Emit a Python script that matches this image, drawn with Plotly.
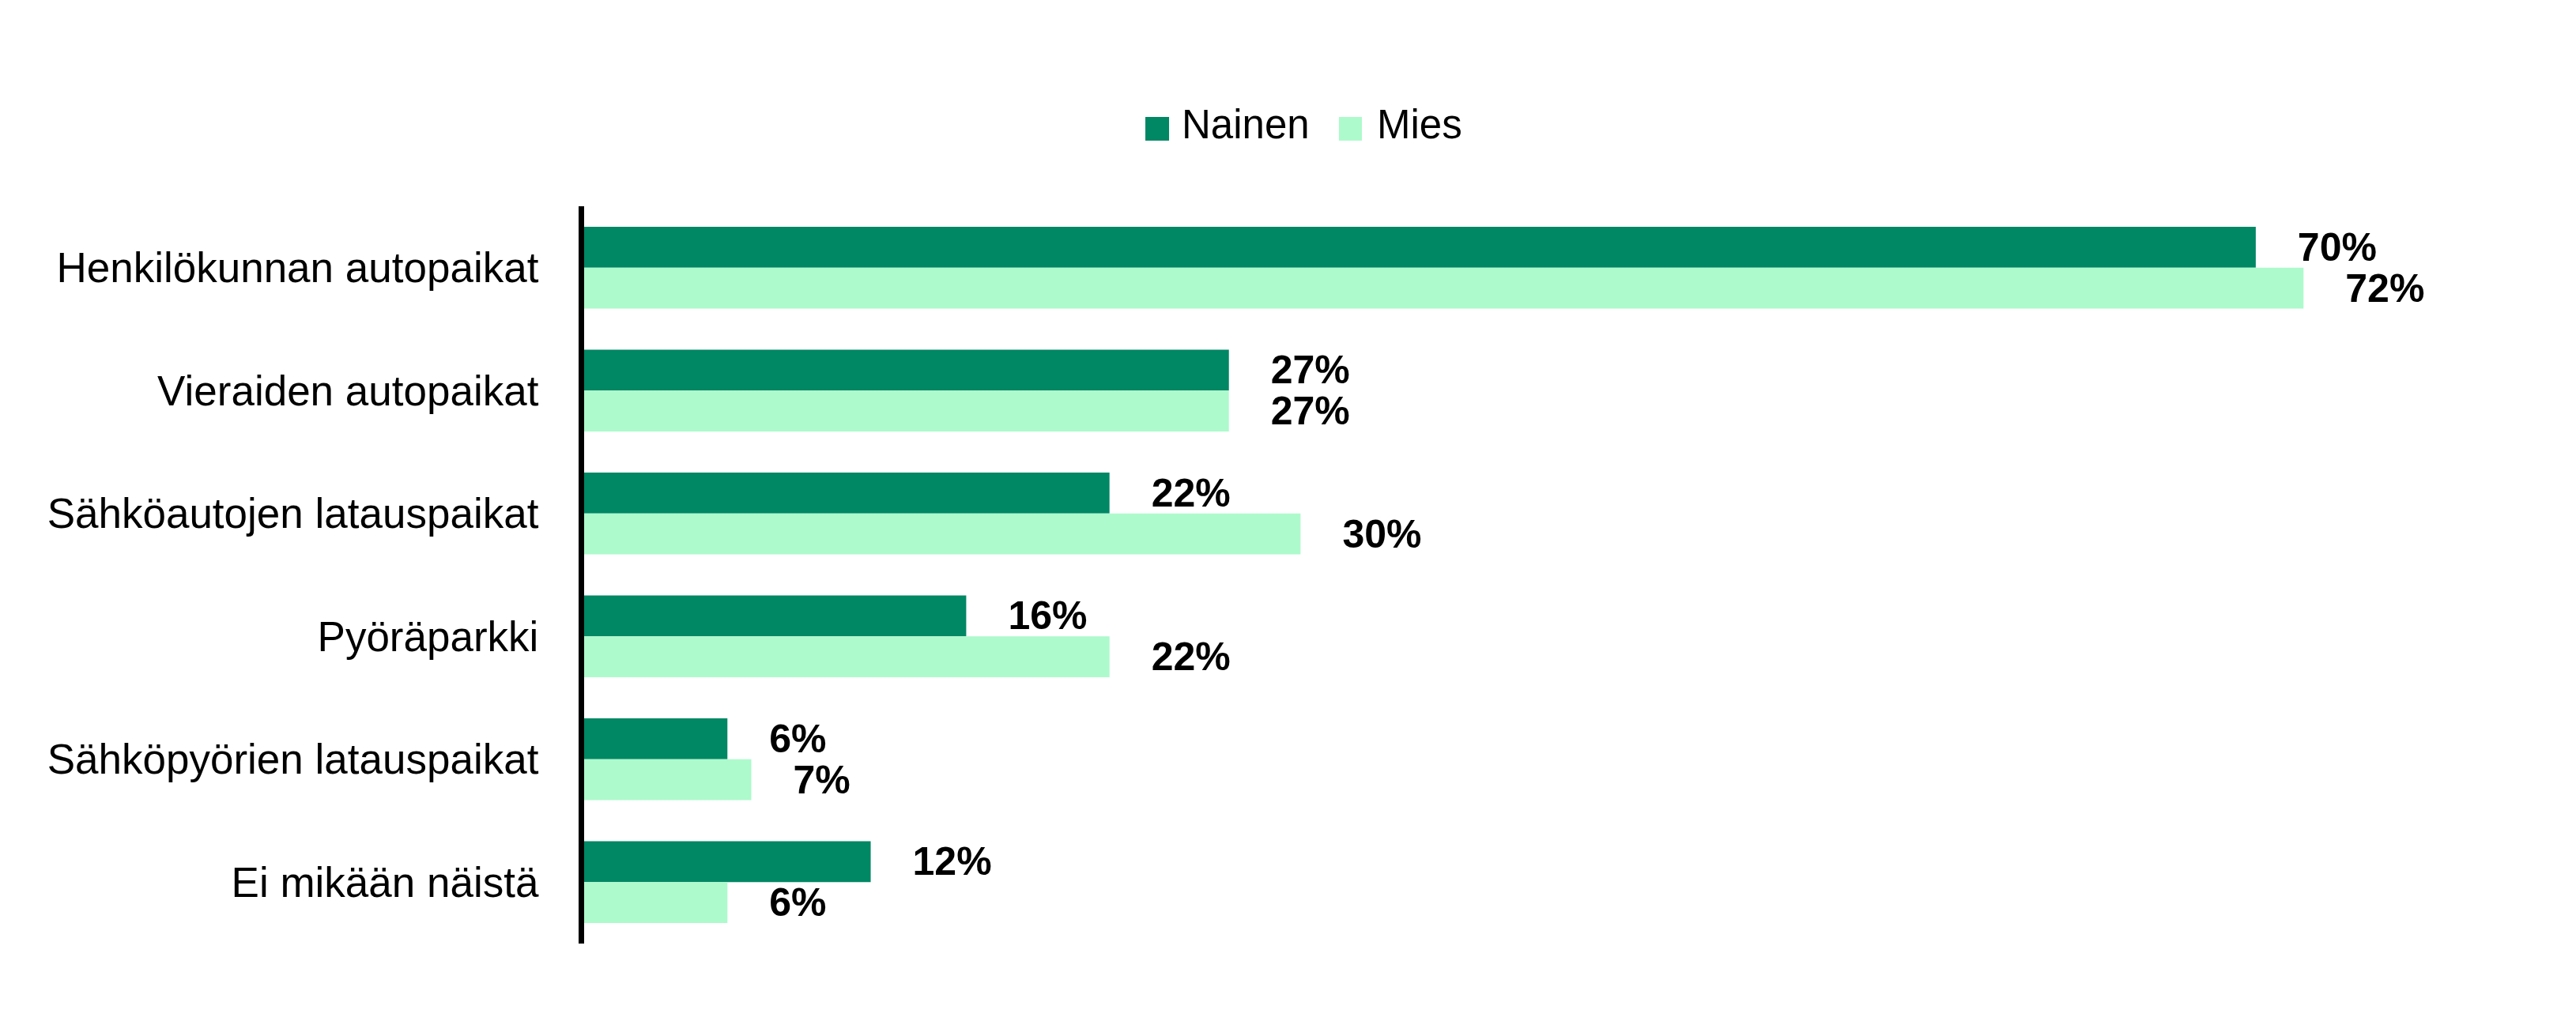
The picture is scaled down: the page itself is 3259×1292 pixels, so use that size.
import plotly.graph_objects as go

categories = [
    "Henkilökunnan autopaikat",
    "Vieraiden autopaikat",
    "Sähköautojen latauspaikat",
    "Pyöräparkki",
    "Sähköpyörien latauspaikat",
    "Ei mikään näistä",
]
series_names = ["Nainen", "Mies"]
nainen = [70, 27, 22, 16, 6, 12]
mies = [72, 27, 30, 22, 7, 6]

DARK = "#008764"
LIGHT = "#ADFACC"
FONT = "Liberation Sans, Arial, sans-serif"
PAD = "\u2002\u2002"

fig = go.Figure()
for name, vals, col in [(series_names[0], nainen, DARK), (series_names[1], mies, LIGHT)]:
    fig.add_trace(go.Bar(
        name=name, y=categories, x=vals, orientation="h",
        marker=dict(color=col, line=dict(width=0)),
        text=[f"{PAD}{v}%" for v in vals],
        textposition="outside", constraintext="none", cliponaxis=False,
        textfont=dict(family=FONT, size=50, color="black", weight="bold"),
        hoverinfo="skip", showlegend=False,
    ))

# legend drawn as swatches + labels (paper coordinates)
legend_items = [
    (series_names[0], DARK, 0.2934, 0.3058, 0.3116),
    (series_names[1], LIGHT, 0.3946, 0.4066, 0.4136),
]
shapes, annotations = [], []
for name, col, x0, x1, tx in legend_items:
    shapes.append(dict(type="rect", xref="paper", yref="paper", x0=x0, x1=x1,
                       y0=1.0890, y1=1.1211, fillcolor=col, line=dict(width=0)))
    annotations.append(dict(text=name, xref="paper", yref="paper", x=tx, y=1.1104,
                            xanchor="left", yanchor="middle", showarrow=False,
                            font=dict(family=FONT, size=51, color="black")))

fig.update_layout(
    width=3259, height=1292,
    margin=dict(l=739, r=100, t=261, b=98),
    paper_bgcolor="white", plot_bgcolor="white",
    barmode="group", bargap=1/3, bargroupgap=0,
    font=dict(family=FONT, size=53, color="black"),
    showlegend=False,
    shapes=shapes, annotations=annotations,
    xaxis=dict(range=[0, 80.1], visible=False, showgrid=False, zeroline=False),
    yaxis=dict(autorange="reversed", showline=True, linecolor="black", linewidth=7,
               showgrid=False, zeroline=False, ticks="", ticklabelstandoff=40,
               tickfont=dict(family=FONT, size=53, color="black")),
)

fig.write_html("out.html", config={"displayModeBar": False},
               post_script="document.body.style.margin='0px';")
